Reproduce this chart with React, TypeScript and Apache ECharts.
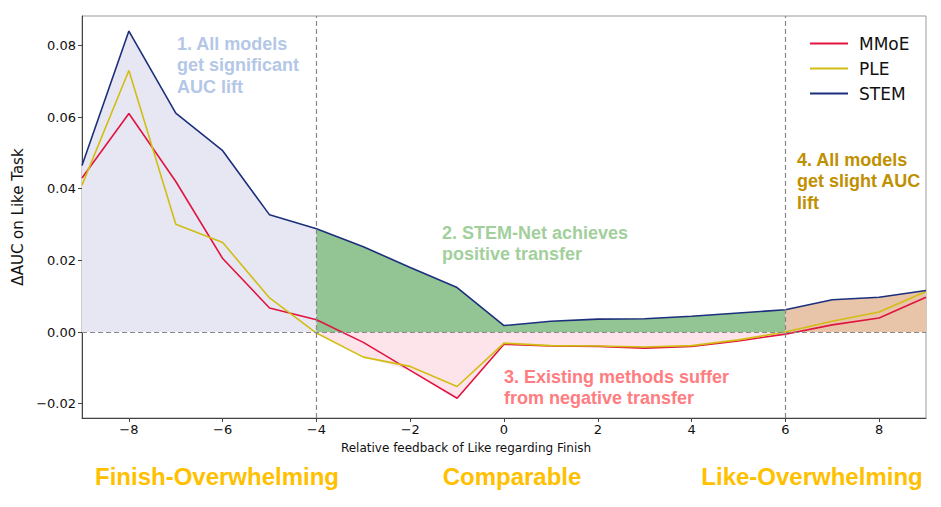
import React, { useEffect, useRef } from "react";
import * as echarts from "echarts";

const xValues = [-9, -8, -7, -6, -5, -4, -3, -2, -1, 0, 1, 2, 3, 4, 5, 6, 7, 8, 9];
const mmoe = [0.043, 0.061, 0.042, 0.0205, 0.0067, 0.0034, -0.0029, -0.0107, -0.0185, -0.0034, -0.0039, -0.004, -0.0045, -0.004, -0.0025, -0.0006, 0.002, 0.0039, 0.0097];
const ple = [0.041, 0.073, 0.0301, 0.025, 0.0095, -0.0003, -0.007, -0.0096, -0.0152, -0.0031, -0.0038, -0.0039, -0.0042, -0.0038, -0.0022, 0.0, 0.003, 0.0056, 0.0113];
const stem = [0.0465, 0.084, 0.0611, 0.0506, 0.0327, 0.0288, 0.0238, 0.018, 0.0124, 0.0018, 0.003, 0.0036, 0.0037, 0.0044, 0.0053, 0.0062, 0.009, 0.0097, 0.0116];
const xTicks = [-8, -6, -4, -2, 0, 2, 4, 6, 8];
const yTicks = [-0.02, 0, 0.02, 0.04, 0.06, 0.08];
const regionBounds = [-9, -4, 6, 9];
const regionLabels = ["Finish-Overwhelming", "Comparable", "Like-Overwhelming"];
const annotations = [
  "1. All models\nget significant\nAUC lift",
  "2. STEM-Net achieves\npositive transfer",
  "3. Existing methods suffer\nfrom negative transfer",
  "4. All models\nget slight AUC\nlift",
];

const pairs = (ys: number[], from: number, to: number) =>
  xValues.map((x, i) => [x, ys[i]]).filter((p) => p[0] >= from && p[0] <= to);

const minNeg = xValues.map((_, i) => Math.min(mmoe[i], ple[i], 0));

export default function App() {
  const ref = useRef<HTMLDivElement>(null);
  useEffect(() => {
    if (!ref.current) return;
    const chart = echarts.init(ref.current, null, { renderer: "svg" });
    const fill = (name: string, data: number[][], color: string) => ({
      name,
      type: "line",
      data,
      symbol: "none",
      silent: true,
      lineStyle: { width: 0, opacity: 0 },
      areaStyle: { color, opacity: 1, origin: "auto" },
      z: 1,
    });
    const line = (name: string, ys: number[], color: string) => ({
      name,
      type: "line",
      data: xValues.map((x, i) => [x, ys[i]]),
      symbol: "none",
      lineStyle: { width: 1.6, color },
      itemStyle: { color },
      z: 4,
    });
    const tickFmt = (v: number) => (v < 0 ? "\u2212" : "") + Math.abs(v).toFixed(2);
    const xFmt = (v: number) => (v < 0 ? "\u2212" : "") + Math.abs(v);
    const annFont = "bold 18px 'Liberation Sans'";
    chart.setOption({
      animation: false,
      backgroundColor: "#ffffff",
      grid: { left: 82, right: 15, top: 16, bottom: 89, show: true, borderColor: "#9a9a9a", borderWidth: 1 },
      legend: {
        data: ["MMoE", "PLE", "STEM"],
        orient: "vertical",
        left: 805,
        top: 30,
        icon: "rect",
        itemWidth: 38,
        itemHeight: 2,
        itemGap: 8,
        textStyle: { fontFamily: "DejaVu Sans", fontSize: 17, color: "#111", padding: [0, 0, 0, 6] },
      },
      xAxis: {
        type: "value",
        min: -9,
        max: 9,
        name: "Relative feedback of Like regarding Finish",
        nameLocation: "middle",
        nameGap: 24,
        nameTextStyle: { fontFamily: "DejaVu Sans", fontSize: 12, color: "#111", padding: [0, 76, 0, 0] },
        axisLine: { onZero: false, lineStyle: { color: "#444", width: 1 } },
        axisTick: { show: true, length: 4, inside: false, customValues: xTicks, lineStyle: { color: "#444" } },
        axisLabel: { customValues: xTicks, formatter: xFmt, fontFamily: "DejaVu Sans", fontSize: 13, color: "#111", margin: 5 },
        splitLine: { show: false },
      },
      yAxis: {
        type: "value",
        min: -0.024,
        max: 0.0882,
        name: "\u0394AUC on Like Task",
        nameLocation: "middle",
        nameGap: 55,
        nameTextStyle: { fontFamily: "DejaVu Sans", fontSize: 15, color: "#111" },
        axisLine: { show: true, onZero: false, lineStyle: { color: "#444", width: 1 } },
        axisTick: { show: true, length: 4, customValues: yTicks, lineStyle: { color: "#444" } },
        axisLabel: { customValues: yTicks, formatter: tickFmt, fontFamily: "DejaVu Sans", fontSize: 13, color: "#111", margin: 6 },
        splitLine: { show: false },
      },
      series: [
        fill("fill1", pairs(stem, regionBounds[0], regionBounds[1]), "#e6e7f2"),
        fill("fill2", pairs(stem, regionBounds[1], regionBounds[2]), "#93c594"),
        fill("fill3", pairs(minNeg, regionBounds[1], regionBounds[2]), "#fde4ea"),
        fill("fill4", pairs(stem, regionBounds[2], regionBounds[3]), "#e8c4a8"),
        {
          name: "refs",
          type: "line",
          data: [],
          z: 3,
          markLine: {
            silent: true,
            symbol: "none",
            label: { show: false },
            lineStyle: { color: "#888", type: [5, 3], width: 1.2 },
            data: [{ xAxis: regionBounds[1] }, { xAxis: regionBounds[2] }, { yAxis: 0 }],
          },
        },
        line("MMoE", mmoe, "#e0143f"),
        line("PLE", ple, "#d2bd13"),
        line("STEM", stem, "#1c2f7c"),
      ],
      graphic: [
        { type: "text", left: 177, top: 33, style: { text: annotations[0], fill: "#b4c7e7", font: annFont, lineHeight: 21.5 } },
        { type: "text", left: 442, top: 223, style: { text: annotations[1], fill: "#a2cf9c", font: annFont, lineHeight: 20.5 } },
        { type: "text", left: 504, top: 366, style: { text: annotations[2], fill: "#ff7c80", font: annFont, lineHeight: 21 } },
        { type: "text", left: 797, top: 149, style: { text: annotations[3], fill: "#bf9000", font: annFont, lineHeight: 21.5 } },
        { type: "text", x: 217, y: 476, style: { text: regionLabels[0], fill: "#ffc000", font: "bold 24px 'Liberation Sans'", align: "center", verticalAlign: "middle" } },
        { type: "text", x: 512, y: 476, style: { text: regionLabels[1], fill: "#ffc000", font: "bold 24px 'Liberation Sans'", align: "center", verticalAlign: "middle" } },
        { type: "text", x: 812, y: 476, style: { text: regionLabels[2], fill: "#ffc000", font: "bold 24px 'Liberation Sans'", align: "center", verticalAlign: "middle" } },
      ],
    });
    return () => chart.dispose();
  }, []);
  return <div ref={ref} style={{ position: "fixed", left: 0, top: 0, width: 941, height: 507 }} />;
}
